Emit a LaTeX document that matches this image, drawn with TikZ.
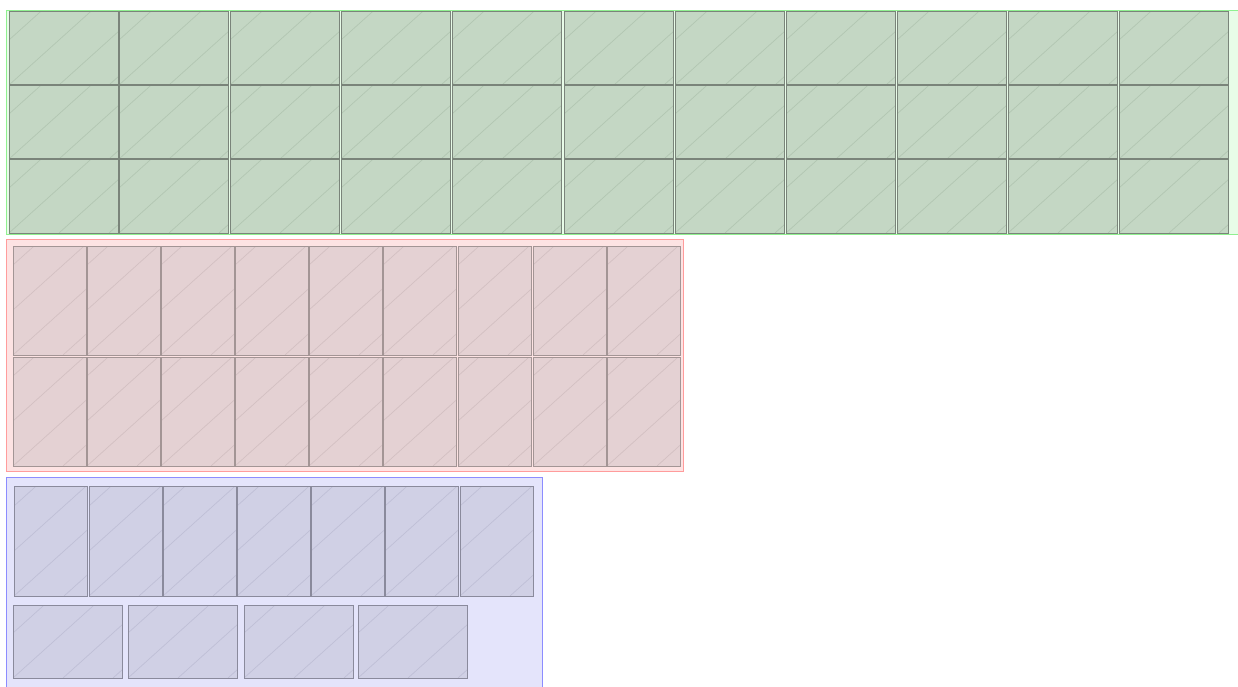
\documentclass[tikz,border=0pt]{standalone}
\usetikzlibrary{calc}
\definecolor{gcfill}{HTML}{E8FCE8}
\definecolor{gcline}{HTML}{90F090}
\definecolor{rcfill}{HTML}{FDE3E3}
\definecolor{rcline}{HTML}{FF9C9C}
\definecolor{bcfill}{HTML}{E4E4FB}
\definecolor{bcline}{HTML}{8C8CFF}
\definecolor{gtfill}{HTML}{C4D7C4}
\definecolor{gtline}{HTML}{7A847A}
\definecolor{gthatch}{HTML}{B2C6B2}
\definecolor{rtfill}{HTML}{E4D1D3}
\definecolor{rtline}{HTML}{A39595}
\definecolor{rthatch}{HTML}{D3C0C2}
\definecolor{btfill}{HTML}{D0D0E5}
\definecolor{btline}{HTML}{8A8A9C}
\definecolor{bthatch}{HTML}{BFBFD6}
\tikzset{
  container/.style={line width=1.1pt},
  tilebase/.style={anchor=north west, inner sep=0pt, outer sep=0pt, line width=1pt,
    path picture={\foreach \k in {-3,...,3}
      \draw[line width=0.7pt, draw=#1] ($(path picture bounding box.south west)+(\k*50,0)$) -- ++(180,-162);}},
  gtile/.style={tilebase=gthatch, fill=gtfill, draw=gtline, minimum width=109pt, minimum height=73pt},
  rtile/.style={tilebase=rthatch, fill=rtfill, draw=rtline, minimum width=73pt, minimum height=109pt},
  btile/.style={tilebase=bthatch, fill=btfill, draw=btline, minimum width=73pt, minimum height=110pt},
  bwtile/.style={tilebase=bthatch, fill=btfill, draw=btline, minimum width=109pt, minimum height=73pt},
}
\begin{document}
\begin{tikzpicture}[x=1pt,y=-1pt]
\useasboundingbox (0,0) rectangle (1238,687);
\clip (0,0) rectangle (1238,687);
% containers
\node[container, draw=gcline, fill=gcfill, anchor=north west, inner sep=0pt, minimum width=1240pt, minimum height=224pt] (green) at (6,10) {};
\node[container, draw=rcline, fill=rcfill, anchor=north west, inner sep=0pt, minimum width=677pt, minimum height=232pt] (red) at (6,239) {};
\node[container, draw=bcline, fill=bcfill, anchor=north west, inner sep=0pt, minimum width=536pt, minimum height=220pt] (blue) at (6,477) {};
% green tiles
\foreach \x [count=\i] in {9,119,230,341,452,564,675,786,897,1008,1119}
  \foreach \y [count=\j] in {12,86,160}
    \node[gtile] (g\j-\i) at (\x,\y) {};
% red tiles
\foreach \x [count=\i] in {13,87,161,235,309,383,458,533,607}
  \foreach \y [count=\j] in {246,357}
    \node[rtile] (r\j-\i) at (\x,\y) {};
% blue tiles
\foreach \x [count=\i] in {14,89,163,237,311,385,460}
  \node[btile] (b1-\i) at (\x,486) {};
\foreach \x [count=\i] in {13,128,244,358}
  \node[bwtile] (b2-\i) at (\x,605) {};
\end{tikzpicture}
\end{document}
